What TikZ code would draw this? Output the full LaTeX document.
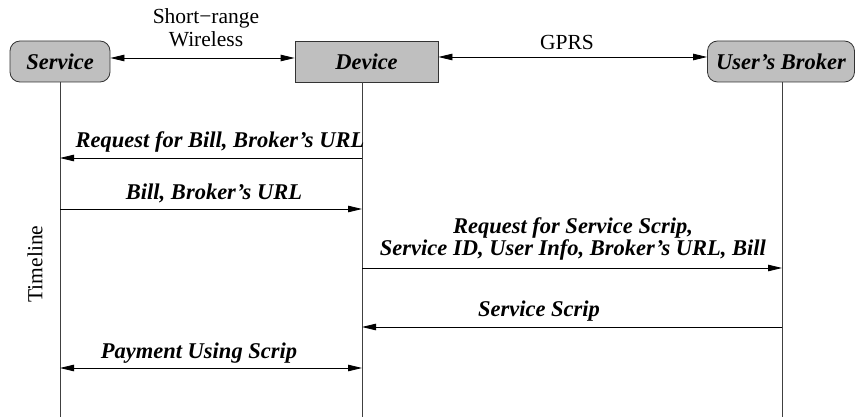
\documentclass[tikz,border=0pt]{standalone}
\usepackage{fontspec}
\setmainfont{Liberation Serif}
\usetikzlibrary{arrows.meta}
\begin{document}
\begin{tikzpicture}[x=1pt,y=-1pt,
  every node/.style={font=\fontsize{21.5}{23}\selectfont, inner sep=0pt},
  ent/.style={draw=black!80, fill=black!25, line width=0.8pt, minimum height=41pt, font=\fontsize{22.5}{23}\selectfont\bfseries\itshape},
  rent/.style={ent, rounded corners=10pt},
  msg/.style={font=\fontsize{22.5}{22.5}\selectfont\bfseries\itshape, align=center},
  life/.style={draw=black!75, line width=0.8pt},
  arr/.style={line width=0.8pt, -{Triangle[length=14pt,width=6.5pt]}},
  darr/.style={line width=0.8pt, {Triangle[length=14pt,width=6.5pt]}-{Triangle[length=14pt,width=6.5pt]}}
]
\useasboundingbox (0,0) rectangle (855,417);
% entities
\node[rent, minimum width=100pt] (service) at (60,61.5) {Service};
\node[ent, minimum width=143pt] (device) at (366.5,61.5) {Device};
\node[rent, minimum width=147pt] (broker) at (781,61.5) {User’s Broker};
% lifelines
\coordinate (sbot) at (60,417);
\coordinate (dtop) at (362,82);
\coordinate (dbot) at (362,417);
\coordinate (bbot) at (782,417);
\draw[life] (service.south) -- (sbot);
\draw[life] (dtop) -- (dbot);
\draw[life] (broker.south -| bbot) -- (bbot);
% links
\draw[darr] ([yshift=3.5pt]service.east) -- ([yshift=3.5pt]device.west);
\draw[darr] ([yshift=4.5pt]device.east) -- ([yshift=4.5pt]broker.west);
\node[align=center] (wl) at (206,28) {Short−range\\Wireless};
\node (gprs) at (567,42) {GPRS};
\node[rotate=90] (tl) at (35,264) {Timeline};
% messages
\coordinate (d1) at (362,158); \coordinate (s1) at (60,158);
\draw[arr] (d1) -- (s1);
\node[msg] (m1) at (220,142) {Request for Bill, Broker’s URL};
\coordinate (s2) at (60,209); \coordinate (d2) at (362,209);
\draw[arr] (s2) -- (d2);
\node[msg] (m2) at (214,193) {Bill, Broker’s URL};
\coordinate (d3) at (362,268); \coordinate (b3) at (782,268);
\draw[arr] (d3) -- (b3);
\node[msg] (m3) at (573,239) {Request for Service Scrip,\\Service ID, User Info, Broker’s URL, Bill};
\coordinate (b4) at (782,327); \coordinate (d4) at (362,327);
\draw[arr] (b4) -- (d4);
\node[msg] (m4) at (539,311) {Service Scrip};
\coordinate (s5) at (60,368); \coordinate (d5) at (362,368);
\draw[darr] (s5) -- (d5);
\node[msg] (m5) at (199,353) {Payment Using Scrip};
\end{tikzpicture}
\end{document}
